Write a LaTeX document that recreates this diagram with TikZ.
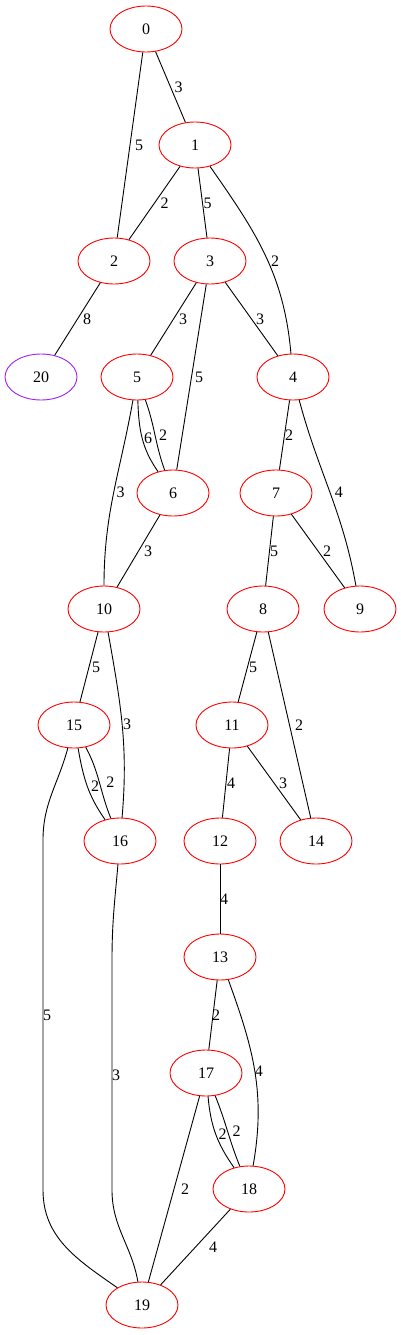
\documentclass[tikz,border=0pt]{standalone}
\usepackage{fontspec}
\setmainfont{Liberation Serif}
\usetikzlibrary{shapes.geometric}
\definecolor{gvpurple}{HTML}{A020F0}

\begin{document}
\begin{tikzpicture}[x=1pt, y=-1pt,
        vertex/.style={ellipse, draw=red, line width=0.9pt, minimum width=72pt, minimum height=46pt, inner sep=0pt, font=\fontsize{16}{18}\selectfont},
        weight/.style={inner sep=0pt, font=\fontsize{16}{18}\selectfont},
        link/.style={line width=0.9pt}]
        \useasboundingbox (0, 0) rectangle (401, 1335);

        \node[vertex] (n0) at (146, 29) {0};
        \node[vertex] (n1) at (195, 145) {1};
        \node[vertex] (n2) at (114, 261) {2};
        \node[vertex] (n3) at (210, 261) {3};
        \node[vertex, draw=gvpurple] (n20) at (41, 377) {20};
        \node[vertex] (n5) at (137, 377) {5};
        \node[vertex] (n4) at (293, 377) {4};
        \node[vertex] (n6) at (173, 493) {6};
        \node[vertex] (n7) at (276, 493) {7};
        \node[vertex] (n10) at (104, 609) {10};
        \node[vertex] (n8) at (263, 609) {8};
        \node[vertex] (n9) at (360, 609) {9};
        \node[vertex] (n15) at (74, 725) {15};
        \node[vertex] (n11) at (232, 725) {11};
        \node[vertex] (n16) at (120, 841) {16};
        \node[vertex] (n12) at (220, 841) {12};
        \node[vertex] (n14) at (316, 841) {14};
        \node[vertex] (n13) at (220, 957) {13};
        \node[vertex] (n17) at (206, 1073) {17};
        \node[vertex] (n18) at (249, 1189) {18};
        \node[vertex] (n19) at (142, 1305) {19};

        \draw[link] (n0) -- node[weight, xshift=8pt] {3} (n1);
        \draw[link] (n0) -- node[weight, xshift=9pt] {5} (n2);
        \draw[link] (n1) -- node[weight, xshift=10pt] {2} (n2);
        \draw[link] (n1) -- node[weight, xshift=5pt] {5} (n3);
        \draw[link] (n1) to[out=-55, in=95] node[weight, xshift=10pt, yshift=-7pt] {2} (n4);
        \draw[link] (n2) -- node[weight, xshift=9.5pt] {8} (n20);
        \draw[link] (n3) -- node[weight, xshift=9.5pt] {3} (n5);
        \draw[link] (n3) -- node[weight, xshift=7.5pt] {5} (n6);
        \draw[link] (n3) -- node[weight, xshift=8.5pt] {3} (n4);
        \draw[link] (n5) to[out=-88, in=125] node[weight, xshift=6pt] {6} (n6);
        \draw[link] (n5) to[out=-70, in=110] node[weight, xshift=8pt] {2} (n6);
        \draw[link] (n5) to[out=-100, in=90] node[weight, xshift=7pt] {3} (n10);
        \draw[link] (n6) -- node[weight, xshift=9.5pt] {3} (n10);
        \draw[link] (n4) -- node[weight, xshift=4.5pt] {2} (n7);
        \draw[link] (n4) to[out=-75, in=100] node[weight, xshift=9pt] {4} (n9);
        \draw[link] (n7) -- node[weight, xshift=4.5pt] {5} (n8);
        \draw[link] (n7) -- node[weight, xshift=9pt] {2} (n9);
        \draw[link] (n10) -- node[weight, xshift=7pt] {5} (n15);
        \draw[link] (n10) to[out=-80, in=85] node[weight, xshift=5pt] {3} (n16);
        \draw[link] (n8) -- node[weight, xshift=5.5pt] {5} (n11);
        \draw[link] (n8) -- node[weight, xshift=9.5pt] {2} (n14);
        \draw[link] (n15) to[out=-80, in=125] node[weight, xshift=8pt] {2} (n16);
        \draw[link] (n15) to[out=-62, in=112] node[weight, xshift=11pt] {2} (n16);
        \draw[link] (n15) to[out=-105, in=90] (43, 840) -- node[weight, xshift=4pt] {5} (43, 1190) to[out=-90, in=145] (n19);
        \draw[link] (n11) -- node[weight, xshift=5pt] {4} (n12);
        \draw[link] (n11) -- node[weight, xshift=9pt] {3} (n14);
        \draw[link] (n16) to[out=-95, in=90] (112, 960) -- node[weight, xshift=4pt] {3} (112, 1190) to[out=-90, in=100] (n19);
        \draw[link] (n12) -- node[weight, xshift=4pt] {4} (n13);
        \draw[link] (n13) -- node[weight, xshift=3pt] {2} (n17);
        \draw[link] (n13) to[out=-70, in=80] node[weight, xshift=4pt] {4} (n18);
        \draw[link] (n17) to[out=-85, in=125] node[weight, xshift=7pt] {2} (n18);
        \draw[link] (n17) to[out=-68, in=112] node[weight, xshift=9pt] {2} (n18);
        \draw[link] (n17) -- node[weight, xshift=11pt] {2} (n19);
        \draw[link] (n18) -- node[weight, xshift=17.5pt] {4} (n19);
    \end{tikzpicture}
\end{document}
